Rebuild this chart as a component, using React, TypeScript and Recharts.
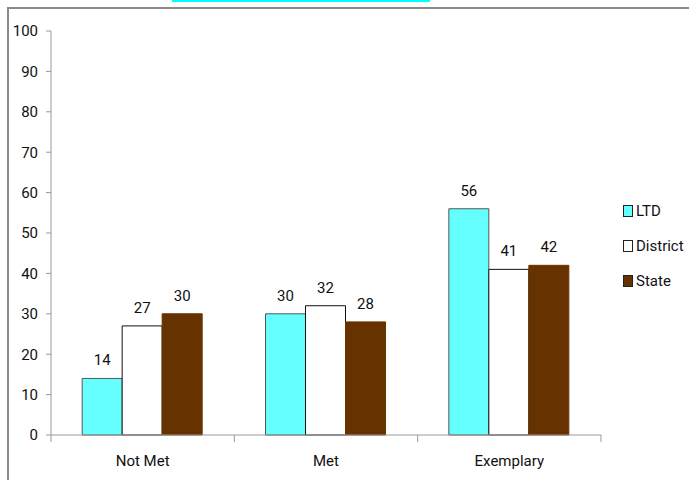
import { BarChart, Bar, XAxis, YAxis, LabelList } from 'recharts'

const categories = ['Not Met', 'Met', 'Exemplary']
const ltd = [14, 30, 56]
const district = [27, 32, 41]
const state = [30, 28, 42]
const yTicks = [0, 10, 20, 30, 40, 50, 60, 70, 80, 90, 100]

const series = [
  { key: 'LTD', fill: '#66ffff', stroke: '#555555' },
  { key: 'District', fill: '#ffffff', stroke: '#111111' },
  { key: 'State', fill: '#663300', stroke: '#663300' },
]

const FONT = 'Roboto, "Liberation Sans", sans-serif'

const data = categories.map((name, i) => ({
  name,
  LTD: ltd[i],
  District: district[i],
  State: state[i],
}))

// category label plus a tick mark on the band edges
function CategoryTick({ x, y, payload, index }: any) {
  const half = payload?.offset ?? 0
  const last = index === categories.length - 1
  return (
    <g>
      <line x1={x - half} x2={x - half} y1={y} y2={y + 7} stroke="#999" />
      {last && <line x1={x + half} x2={x + half} y1={y} y2={y + 7} stroke="#999" />}
      <text x={x} y={y + 31} textAnchor="middle" fill="#111" fontSize={15} fontFamily={FONT}>
        {payload.value}
      </text>
    </g>
  )
}

export default function App() {
  return (
    <div style={{ position: 'absolute', left: 0, top: 0, width: 689, height: 480, background: '#fff', fontFamily: FONT }}>
      <div style={{ position: 'absolute', left: 172, top: 0, width: 258, height: 2, background: '#00ffff' }} />
      <div style={{ position: 'absolute', left: 7, top: 7, width: 682, height: 1.5, background: '#8a8a8a' }} />
      <div style={{ position: 'absolute', left: 7, top: 7, width: 1.5, height: 473, background: '#8a8a8a' }} />
      <BarChart
        width={689}
        height={480}
        data={data}
        margin={{ top: 31, right: 88, bottom: 15, left: 11 }}
        barCategoryGap="17%"
        barGap={0}
        style={{ fontFamily: FONT }}
      >
        <XAxis
          dataKey="name"
          height={30}
          tickLine={false}
          tickSize={0}
          tickMargin={0}
          axisLine={{ stroke: '#999' }}
          tick={<CategoryTick />}
          interval={0}
        />
        <YAxis
          width={40}
          domain={[0, 100]}
          ticks={yTicks}
          interval={0}
          axisLine={{ stroke: '#999' }}
          tickLine={{ stroke: '#999' }}
          tickSize={5}
          tick={{ fill: '#111', fontSize: 15 }}
          tickMargin={8}
        />
        {series.map((s) => (
          <Bar key={s.key} dataKey={s.key} fill={s.fill} stroke={s.stroke} strokeWidth={1} isAnimationActive={false}>
            <LabelList dataKey={s.key} position="top" offset={13} fill="#111" fontSize={15} />
          </Bar>
        ))}
      </BarChart>
      <div style={{ position: 'absolute', left: 623, top: 193, fontSize: 15, color: '#111' }}>
        {series.map((s) => (
          <div key={s.key} style={{ display: 'flex', alignItems: 'center', height: 35 }}>
            <span
              style={{
                display: 'inline-block', width: 8, height: 10, marginRight: 3,
                background: s.fill, border: '1px solid #222',
              }}
            />
            {s.key}
          </div>
        ))}
      </div>
    </div>
  )
}
